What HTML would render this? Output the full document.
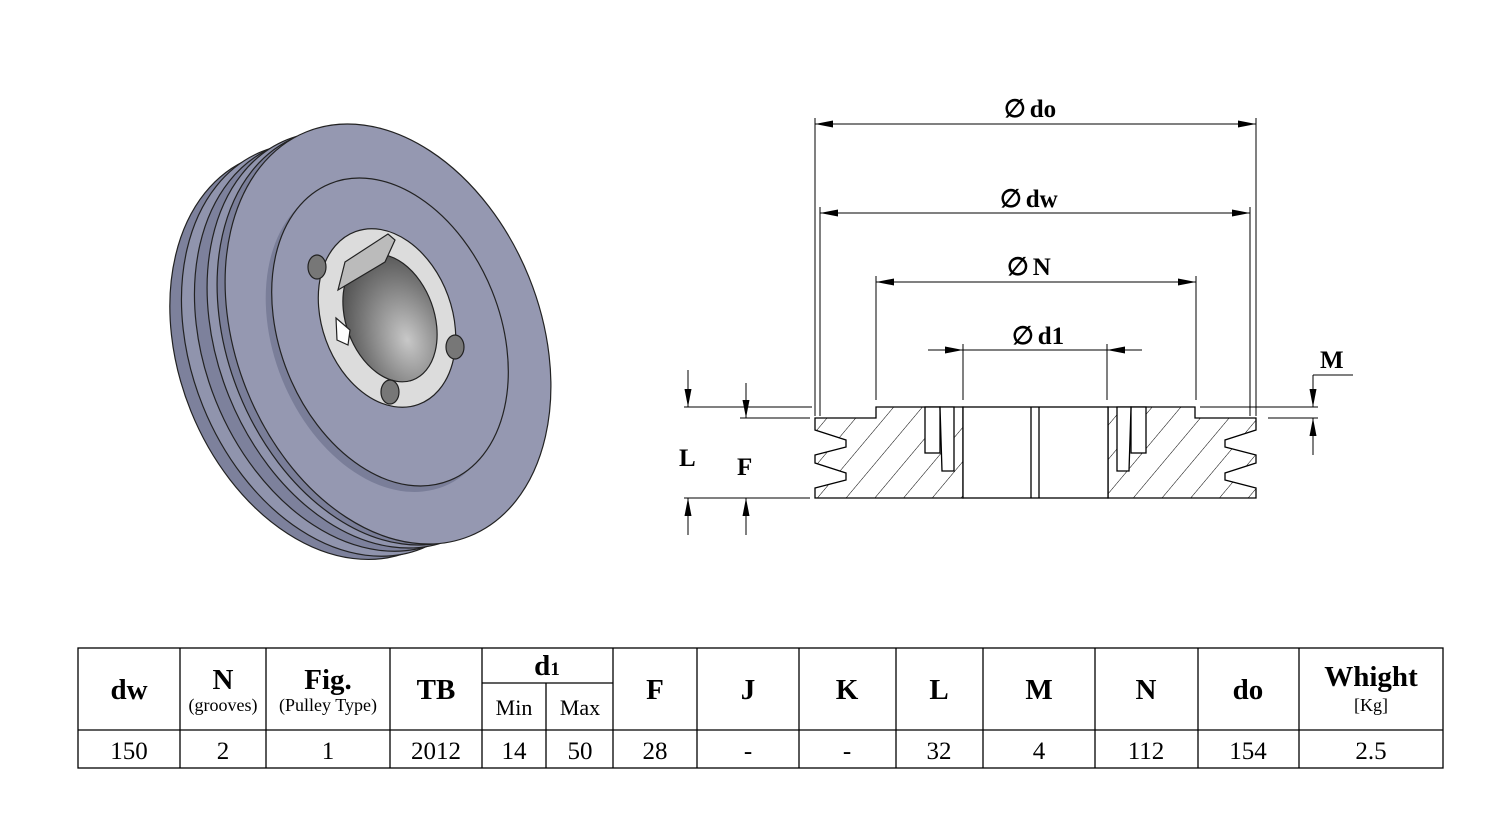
<!DOCTYPE html>
<html><head><meta charset="utf-8"><style>
html,body{margin:0;padding:0;background:#fff;}
svg{display:block;}
text{font-family:"Liberation Serif",serif;fill:#000;}
</style></head><body>
<svg width="1500" height="822" viewBox="0 0 1500 822" xmlns="http://www.w3.org/2000/svg">
<defs>
<pattern id="hatch" patternUnits="userSpaceOnUse" width="22" height="22" patternTransform="rotate(40)">
<line x1="0" y1="0" x2="0" y2="22" stroke="#000" stroke-width="1"/>
</pattern>
<radialGradient id="bore" cx="0.6" cy="0.7" r="0.8">
<stop offset="0" stop-color="#c8c8c8"/><stop offset="0.6" stop-color="#777"/><stop offset="1" stop-color="#444"/>
</radialGradient>
<marker id="ar" viewBox="0 0 10 10" refX="10" refY="5" markerWidth="18" markerHeight="7" preserveAspectRatio="none" markerUnits="userSpaceOnUse" orient="auto-start-reverse">
<path d="M0,0 L10,5 L0,10 Z" fill="#000"/>
</marker>
</defs>

<!-- 3D pulley -->
<g stroke="#222" stroke-width="1.2">
<ellipse cx="330" cy="355" rx="150" ry="212" transform="rotate(-22 330 355)" fill="#7d819c"/>
<ellipse cx="342" cy="350" rx="150" ry="214" transform="rotate(-22 342 350)" fill="#9094ad"/>
<ellipse cx="355" cy="345" rx="150" ry="214" transform="rotate(-22 355 345)" fill="#7d819c"/>
<ellipse cx="368" cy="340" rx="150" ry="216" transform="rotate(-22 368 340)" fill="#9094ad"/>
<ellipse cx="378" cy="337" rx="150" ry="216" transform="rotate(-22 378 337)" fill="#7a7e99"/>
<ellipse cx="388" cy="334" rx="152" ry="218" transform="rotate(-22 388 334)" fill="#9598b1"/>
<ellipse cx="384" cy="338" rx="110" ry="160" transform="rotate(-22 384 338)" fill="#7a7e99" stroke="none"/>
<ellipse cx="390" cy="332" rx="110" ry="160" transform="rotate(-22 390 332)" fill="#9598b1"/>
<ellipse cx="387" cy="318" rx="65" ry="92" transform="rotate(-20 387 318)" fill="#dcdcdc"/>
<ellipse cx="390" cy="318" rx="44" ry="66" transform="rotate(-20 390 318)" fill="url(#bore)"/>
<polygon points="338,290 385,262 395,240 388,234 345,262" fill="#bbb"/>
<polygon points="336,318 350,330 348,345 337,340" fill="#fff"/>
<ellipse cx="317" cy="267" rx="9" ry="12" fill="#777"/>
<ellipse cx="455" cy="347" rx="9" ry="12" fill="#777"/>
<ellipse cx="390" cy="392" rx="9" ry="12" fill="#777"/>
</g>

<!-- Section view -->
<g fill="none" stroke="#000" stroke-width="1.3">
<path d="M815,418 L876,418 L876,407 L963,407 L963,498 L815,498 L815,488 L846,480 L846,473 L815,463 L815,455 L846,447 L846,440 L815,430 Z" fill="url(#hatch)"/>
<path d="M1256,418 L1195,418 L1195,407 L1108,407 L1108,498 L1256,498 L1256,488 L1225,480 L1225,473 L1256,463 L1256,455 L1225,447 L1225,440 L1256,430 Z" fill="url(#hatch)"/>
<rect x="925" y="407" width="15" height="46" fill="#fff"/>
<path d="M940,407 L954,407 L954,471 L942,471 Z" fill="#fff"/>
<rect x="1131" y="407" width="15" height="46" fill="#fff"/>
<path d="M1131,407 L1117,407 L1117,471 L1129,471 Z" fill="#fff"/>
<rect x="963" y="407" width="145" height="91" fill="#fff"/>
<line x1="1031" y1="407" x2="1031" y2="498"/>
<line x1="1039" y1="407" x2="1039" y2="498"/>
</g>
<g stroke="#000" stroke-width="1" fill="none">
<line x1="815" y1="118" x2="815" y2="416"/><line x1="1256" y1="118" x2="1256" y2="416"/>
<line x1="820" y1="207" x2="820" y2="416"/><line x1="1250" y1="207" x2="1250" y2="416"/>
<line x1="876" y1="276" x2="876" y2="400"/><line x1="1196" y1="276" x2="1196" y2="400"/>
<line x1="963" y1="344" x2="963" y2="400"/><line x1="1107" y1="344" x2="1107" y2="400"/>
<line x1="815" y1="124" x2="1256" y2="124" marker-start="url(#ar)" marker-end="url(#ar)"/>
<line x1="820" y1="213" x2="1250" y2="213" marker-start="url(#ar)" marker-end="url(#ar)"/>
<line x1="876" y1="282" x2="1196" y2="282" marker-start="url(#ar)" marker-end="url(#ar)"/>
<line x1="928" y1="350" x2="963" y2="350" marker-end="url(#ar)"/>
<line x1="963" y1="350" x2="1107" y2="350"/>
<line x1="1142" y1="350" x2="1107" y2="350" marker-end="url(#ar)"/>
<line x1="684" y1="407" x2="812" y2="407"/>
<line x1="740" y1="418" x2="810" y2="418"/>
<line x1="684" y1="498" x2="810" y2="498"/>
<line x1="1200" y1="407" x2="1318" y2="407"/>
<line x1="1268" y1="418" x2="1318" y2="418"/>
<line x1="688" y1="370" x2="688" y2="407" marker-end="url(#ar)"/>
<line x1="688" y1="535" x2="688" y2="498" marker-end="url(#ar)"/>
<line x1="746" y1="383" x2="746" y2="418" marker-end="url(#ar)"/>
<line x1="746" y1="535" x2="746" y2="498" marker-end="url(#ar)"/>
<line x1="1353" y1="375" x2="1313" y2="375"/>
<line x1="1313" y1="375" x2="1313" y2="407" marker-end="url(#ar)"/>
<line x1="1313" y1="455" x2="1313" y2="418" marker-end="url(#ar)"/>
</g>
<g font-weight="bold" font-size="25">
<text x="1004" y="117">∅<tspan dx="4">do</tspan></text>
<text x="1000" y="207">∅<tspan dx="4">dw</tspan></text>
<text x="1007" y="275">∅<tspan dx="4">N</tspan></text>
<text x="1012" y="344">∅<tspan dx="4">d1</tspan></text>
<text x="1320" y="368">M</text>
<text x="679" y="466">L</text>
<text x="737" y="475">F</text>
</g>

<!-- Table -->
<g stroke="#000" stroke-width="1.3" fill="none">
<rect x="78" y="648" width="1365" height="120"/>
<line x1="78" y1="730" x2="1443" y2="730"/>
<line x1="482" y1="683" x2="613" y2="683"/>
<line x1="180" y1="648" x2="180" y2="768"/><line x1="266" y1="648" x2="266" y2="768"/>
<line x1="390" y1="648" x2="390" y2="768"/><line x1="482" y1="648" x2="482" y2="768"/>
<line x1="546" y1="683" x2="546" y2="768"/><line x1="613" y1="648" x2="613" y2="768"/>
<line x1="697" y1="648" x2="697" y2="768"/><line x1="799" y1="648" x2="799" y2="768"/>
<line x1="896" y1="648" x2="896" y2="768"/><line x1="983" y1="648" x2="983" y2="768"/>
<line x1="1095" y1="648" x2="1095" y2="768"/><line x1="1198" y1="648" x2="1198" y2="768"/>
<line x1="1299" y1="648" x2="1299" y2="768"/>
</g>
<g text-anchor="middle" font-weight="bold" font-size="29">
<text x="129" y="699">dw</text>
<text x="223" y="689">N</text>
<text x="328" y="689">Fig.</text>
<text x="436" y="699">TB</text>
<text x="547" y="675">d<tspan font-size="19">1</tspan></text>
<text x="655" y="699">F</text>
<text x="748" y="699">J</text>
<text x="847" y="699">K</text>
<text x="939" y="699">L</text>
<text x="1039" y="699">M</text>
<text x="1146" y="699">N</text>
<text x="1248" y="699">do</text>
<text x="1371" y="686">Whight</text>
</g>
<g text-anchor="middle" font-size="18">
<text x="223" y="711">(grooves)</text>
<text x="328" y="711">(Pulley Type)</text>
<text x="1371" y="711">[Kg]</text>
</g>
<g text-anchor="middle" font-size="22">
<text x="514" y="715">Min</text>
<text x="580" y="715">Max</text>
</g>
<g text-anchor="middle" font-size="25">
<text x="129" y="759">150</text>
<text x="223" y="759">2</text>
<text x="328" y="759">1</text>
<text x="436" y="759">2012</text>
<text x="514" y="759">14</text>
<text x="580" y="759">50</text>
<text x="655" y="759">28</text>
<text x="748" y="759">-</text>
<text x="847" y="759">-</text>
<text x="939" y="759">32</text>
<text x="1039" y="759">4</text>
<text x="1146" y="759">112</text>
<text x="1248" y="759">154</text>
<text x="1371" y="759">2.5</text>
</g>
</svg>
</body></html>
